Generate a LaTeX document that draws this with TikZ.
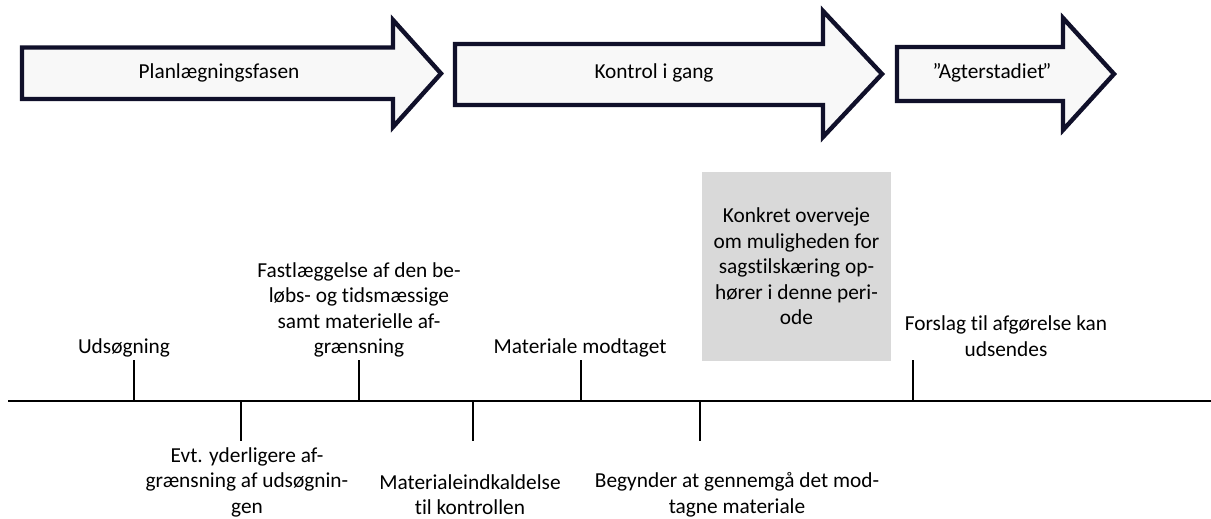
\documentclass[tikz,border=0pt]{standalone}
\usepackage{fontspec}
\setmainfont{Carlito}[RawFeature={-liga;-clig}]
\definecolor{phaseNavy}{HTML}{10102A}
\definecolor{phaseFill}{HTML}{F8F8F8}
\definecolor{boxGray}{HTML}{D9D9D9}
\usetikzlibrary{positioning, calc}

\begin{document}
\begin{tikzpicture}[x=0.75pt, y=-0.75pt,
  phase/.style={draw=phaseNavy, fill=phaseFill, line width=3.3pt, line join=miter},
  phaselabel/.style={font=\fontsize{16}{19.1}\selectfont, inner sep=0pt},
  event/.style={align=center, font=\fontsize{16}{19.1}\selectfont, inner sep=0pt},
  reviewbox/.style={fill=boxGray, align=center, font=\fontsize{16}{19.1}\selectfont,
    minimum width=142pt, minimum height=141.5pt, inner sep=0pt},
  timeline/.style={line width=2pt},
  tickline/.style={line width=1.5pt}]

  \useasboundingbox (0,0) rectangle (1211,518);

  % Phases
  \draw[phase] (22,47.5) -- (393,47.5) -- (393,20) -- (441,73.5) -- (393,127)
    -- (393,99) -- (22,99) -- cycle;
  \draw[phase] (455,44) -- (823,44) -- (823,11) -- (882,74) -- (823,137)
    -- (823,105) -- (455,105) -- cycle;
  \draw[phase] (897,47) -- (1063,47) -- (1063,18) -- (1114,74) -- (1063,130)
    -- (1063,101) -- (897,101) -- cycle;
  \node[phaselabel] (plan) at (219,73) {Planlægningsfasen};
  \node[phaselabel] (kontrol) at (654,73) {Kontrol i gang};
  \node[phaselabel] (agter) at (992,73) {”Agterstadiet\kern-1.5pt”};

  % Timeline
  \coordinate (tlstart) at (8,401);
  \coordinate (tlend) at (1211,401);
  \draw[timeline] (tlstart) -- (tlend);

  \foreach \n/\x/\y in {uds/134/360, fast/359/360, modt/581/360, forsl/913/360,
    evt/241/441, indk/473/441, begyn/700/441} {
    \coordinate (\n-on) at (\x,401);
    \coordinate (\n-end) at (\x,\y);
    \draw[tickline] (\n-on) -- (\n-end);
  }

  % Events above
  \node[event] (uds) at (124,348) {Udsøgning};
  \node[event] (fast) at (359,310) {Fastlæggelse af den be-\\løbs- og tidsmæssige\\samt materielle af-\\grænsning};
  \node[event] (modt) at (580,348) {Materiale modtaget};
  \node[event] (forsl) at (1006,336) {Forslag til afgørelse kan\\udsendes};
  \node[reviewbox] (review) at (796.5,266.5) {Konkret overveje\\om muligheden for\\sagstilskæring op-\\hører i denne peri-\\ode};

  % Events below
  \node[event] (evt) at (247,482) {Evt. yderligere af-\\grænsning af udsøgnin-\\gen};
  \node[event] (indk) at (470,494.5) {Materialeindkaldelse\\til kontrollen};
  \node[event] (begyn) at (737,495) {Begynder at gennemgå det mod-\\tagne materiale};
\end{tikzpicture}
\end{document}
